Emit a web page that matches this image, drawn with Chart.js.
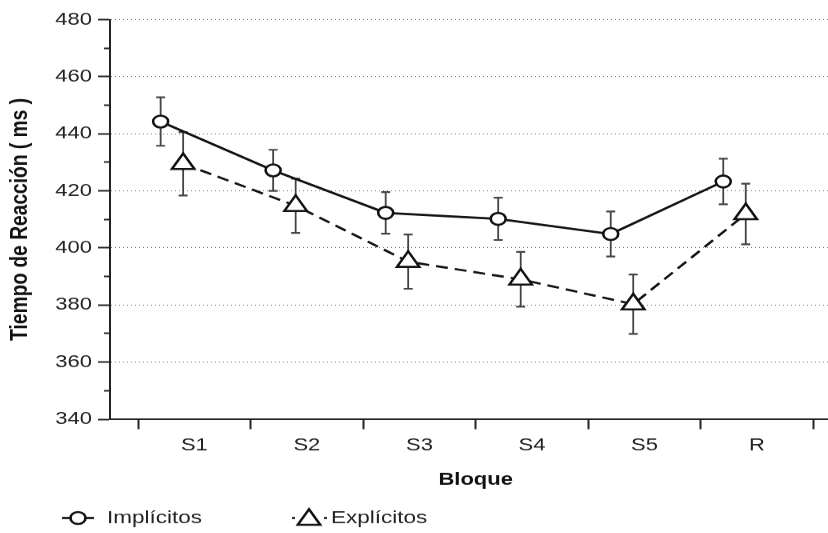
<!DOCTYPE html>
<html>
<head>
<meta charset="utf-8">
<script src="https://cdn.jsdelivr.net/npm/chart.js@4.4.1/dist/chart.umd.min.js"></script>
<style>
  html, body { margin: 0; padding: 0; background: #fff; overflow: hidden; }
  #frame { position: relative; width: 828px; height: 533px; overflow: hidden; }
  /* the source figure is squashed vertically and cut on the right:
     draw it tall and wide, then scale down and clip */
  #wrap { position: absolute; left: 0; top: 0; width: 857px; height: 667px; transform: scaleY(0.8); transform-origin: 0 0; }
</style>
</head>
<body>
<div id="frame"><div id="wrap"><canvas id="chart" width="857" height="667"></canvas></div></div>
<script>
// data
const categories = ['S1', 'S2', 'S3', 'S4', 'S5', 'R'];
const implicitMeans = [444.3, 427.2, 412.3, 410.2, 404.9, 423.3];
const implicitErrors = [8.5, 7.2, 7.3, 7.4, 7.9, 8.0];
const explicitMeans = [429.5, 414.8, 395.2, 389.0, 380.3, 411.9];
const explicitErrors = [11.1, 9.5, 9.5, 9.6, 10.4, 10.6];
const yTickLabels = [340, 360, 380, 400, 420, 440, 460, 480];

const FONT = 'Liberation Sans, Arial, Helvetica, sans-serif';
Chart.defaults.font.family = FONT;
Chart.defaults.color = '#222';

// points sit left of each block centre, one series beside the other
const implicitShift = 0.2;
const explicitShift = 0.4;
const toPoints = (means, shift) => means.map((v, i) => ({ x: i + shift, y: v }));

const errorBars = {
  id: 'errorBars',
  beforeDatasetsDraw(chart) {
    const { ctx, scales: { x, y } } = chart;
    ctx.save();
    ctx.strokeStyle = '#444';
    chart.data.datasets.forEach(ds => {
      ds.data.forEach((p, i) => {
        const px = x.getPixelForValue(p.x);
        const top = y.getPixelForValue(p.y + ds.errors[i]);
        const bot = y.getPixelForValue(p.y - ds.errors[i]);
        ctx.lineWidth = 1.8;
        ctx.beginPath();
        ctx.moveTo(px, top);
        ctx.lineTo(px, bot);
        ctx.stroke();
        ctx.lineWidth = 2.2;
        ctx.beginPath();
        ctx.moveTo(px - 4.5, top); ctx.lineTo(px + 4.5, top);
        ctx.moveTo(px - 4.5, bot); ctx.lineTo(px + 4.5, bot);
        ctx.stroke();
      });
    });
    ctx.restore();
  }
};

// legend like the original: little line through the marker, then the name
const lineLegend = {
  id: 'lineLegend',
  afterDraw(chart) {
    const { ctx } = chart;
    const y = 647.5;
    const items = [
      { ds: 0, from: 62, to: 94, mark: 78, text: 107, dash: [] },
      { ds: 1, from: 292, to: 327, mark: 309, text: 331, dash: [3, 29] }
    ];
    ctx.save();
    items.forEach(it => {
      const ds = chart.data.datasets[it.ds];
      ctx.strokeStyle = ds.borderColor;
      ctx.lineWidth = ds.borderWidth;
      ctx.setLineDash(it.dash);
      ctx.beginPath();
      ctx.moveTo(it.from, y);
      ctx.lineTo(it.to, y);
      ctx.stroke();
      ctx.setLineDash([]);
      ctx.fillStyle = ds.pointBackgroundColor;
      ctx.strokeStyle = ds.pointBorderColor;
      ctx.lineWidth = ds.pointBorderWidth;
      Chart.helpers.drawPoint(ctx, {
        pointStyle: ds.pointStyle, radius: ds.pointRadius, borderWidth: ds.pointBorderWidth, rotation: 0
      }, it.mark, y + (ds.pointStyle === 'triangle' ? 2 : 0));
      ctx.fillStyle = '#222';
      ctx.font = '22.5px ' + FONT;
      ctx.textAlign = 'left';
      ctx.textBaseline = 'middle';
      ctx.fillText(ds.label, it.text, y);
    });
    ctx.restore();
  }
};

new Chart(document.getElementById('chart'), {
  type: 'line',
  data: {
    datasets: [
      {
        label: 'Implícitos',
        data: toPoints(implicitMeans, implicitShift),
        errors: implicitErrors,
        borderColor: '#111',
        borderWidth: 2.7,
        pointStyle: 'circle',
        pointRadius: 7.5,
        pointBorderWidth: 2.6,
        pointBackgroundColor: '#fff',
        pointBorderColor: '#111'
      },
      {
        label: 'Explícitos',
        data: toPoints(explicitMeans, explicitShift),
        errors: explicitErrors,
        borderColor: '#111',
        borderWidth: 2.7,
        borderDash: [12, 7],
        pointStyle: 'triangle',
        pointRadius: 13,
        pointBorderWidth: 2.6,
        pointBackgroundColor: '#fff',
        pointBorderColor: '#111'
      }
    ]
  },
  options: {
    responsive: false,
    animation: false,
    devicePixelRatio: 1,
    events: [],
    layout: { padding: { top: 24.6, bottom: 54, left: 0, right: 0 } },
    plugins: { legend: { display: false }, tooltip: { enabled: false } },
    scales: {
      x: {
        type: 'linear',
        min: -0.25,
        max: categories.length + 0.25,
        afterBuildTicks: s => {
          s.ticks = categories.map((c, i) => ({ value: i })).concat([{ value: categories.length }]);
        },
        ticks: {
          callback: v => categories[v] ?? '',
          labelOffset: 56.25,
          padding: 7,
          autoSkip: false,
          maxRotation: 0,
          font: { size: 22 },
          color: '#222'
        },
        grid: { drawOnChartArea: false, tickLength: 12.5, tickColor: '#222', tickWidth: 2 },
        border: { color: '#222', width: 2 },
        title: {
          display: true, text: 'Bloque', color: '#111',
          font: { size: 22, weight: 'bold' }, padding: { top: 4, bottom: 0 }
        },
        afterFit: s => { s.height = 89; }
      },
      y: {
        min: 340,
        max: 480,
        afterBuildTicks: s => {
          const t = [];
          for (let v = 340; v <= 480; v += 10) t.push({ value: v });
          s.ticks = t;
        },
        ticks: {
          callback: v => yTickLabels.includes(v) ? String(v) : '',
          padding: 6,
          autoSkip: false,
          font: { size: 22 },
          color: '#222'
        },
        grid: {
          color: c => (c.tick && c.tick.value % 20 === 0 && c.tick.value !== 340) ? '#6a6a6a' : 'rgba(0,0,0,0)',
          lineWidth: 1,
          tickLength: 12,
          tickColor: '#222',
          tickWidth: 2,
          tickBorderDash: c => (c.tick && c.tick.value % 20 === 0) ? [] : [0, 6, 6, 100]
        },
        border: { color: '#222', width: 2, dash: [1, 3] },
        title: {
          display: true, text: 'Tiempo de Reacción ( ms )', color: '#111',
          font: { size: 24, weight: 'bold' }, padding: { top: 6, bottom: 0 }
        },
        afterFit: s => { s.width = 110; }
      }
    }
  },
  plugins: [errorBars, lineLegend]
});
</script>
</body>
</html>
